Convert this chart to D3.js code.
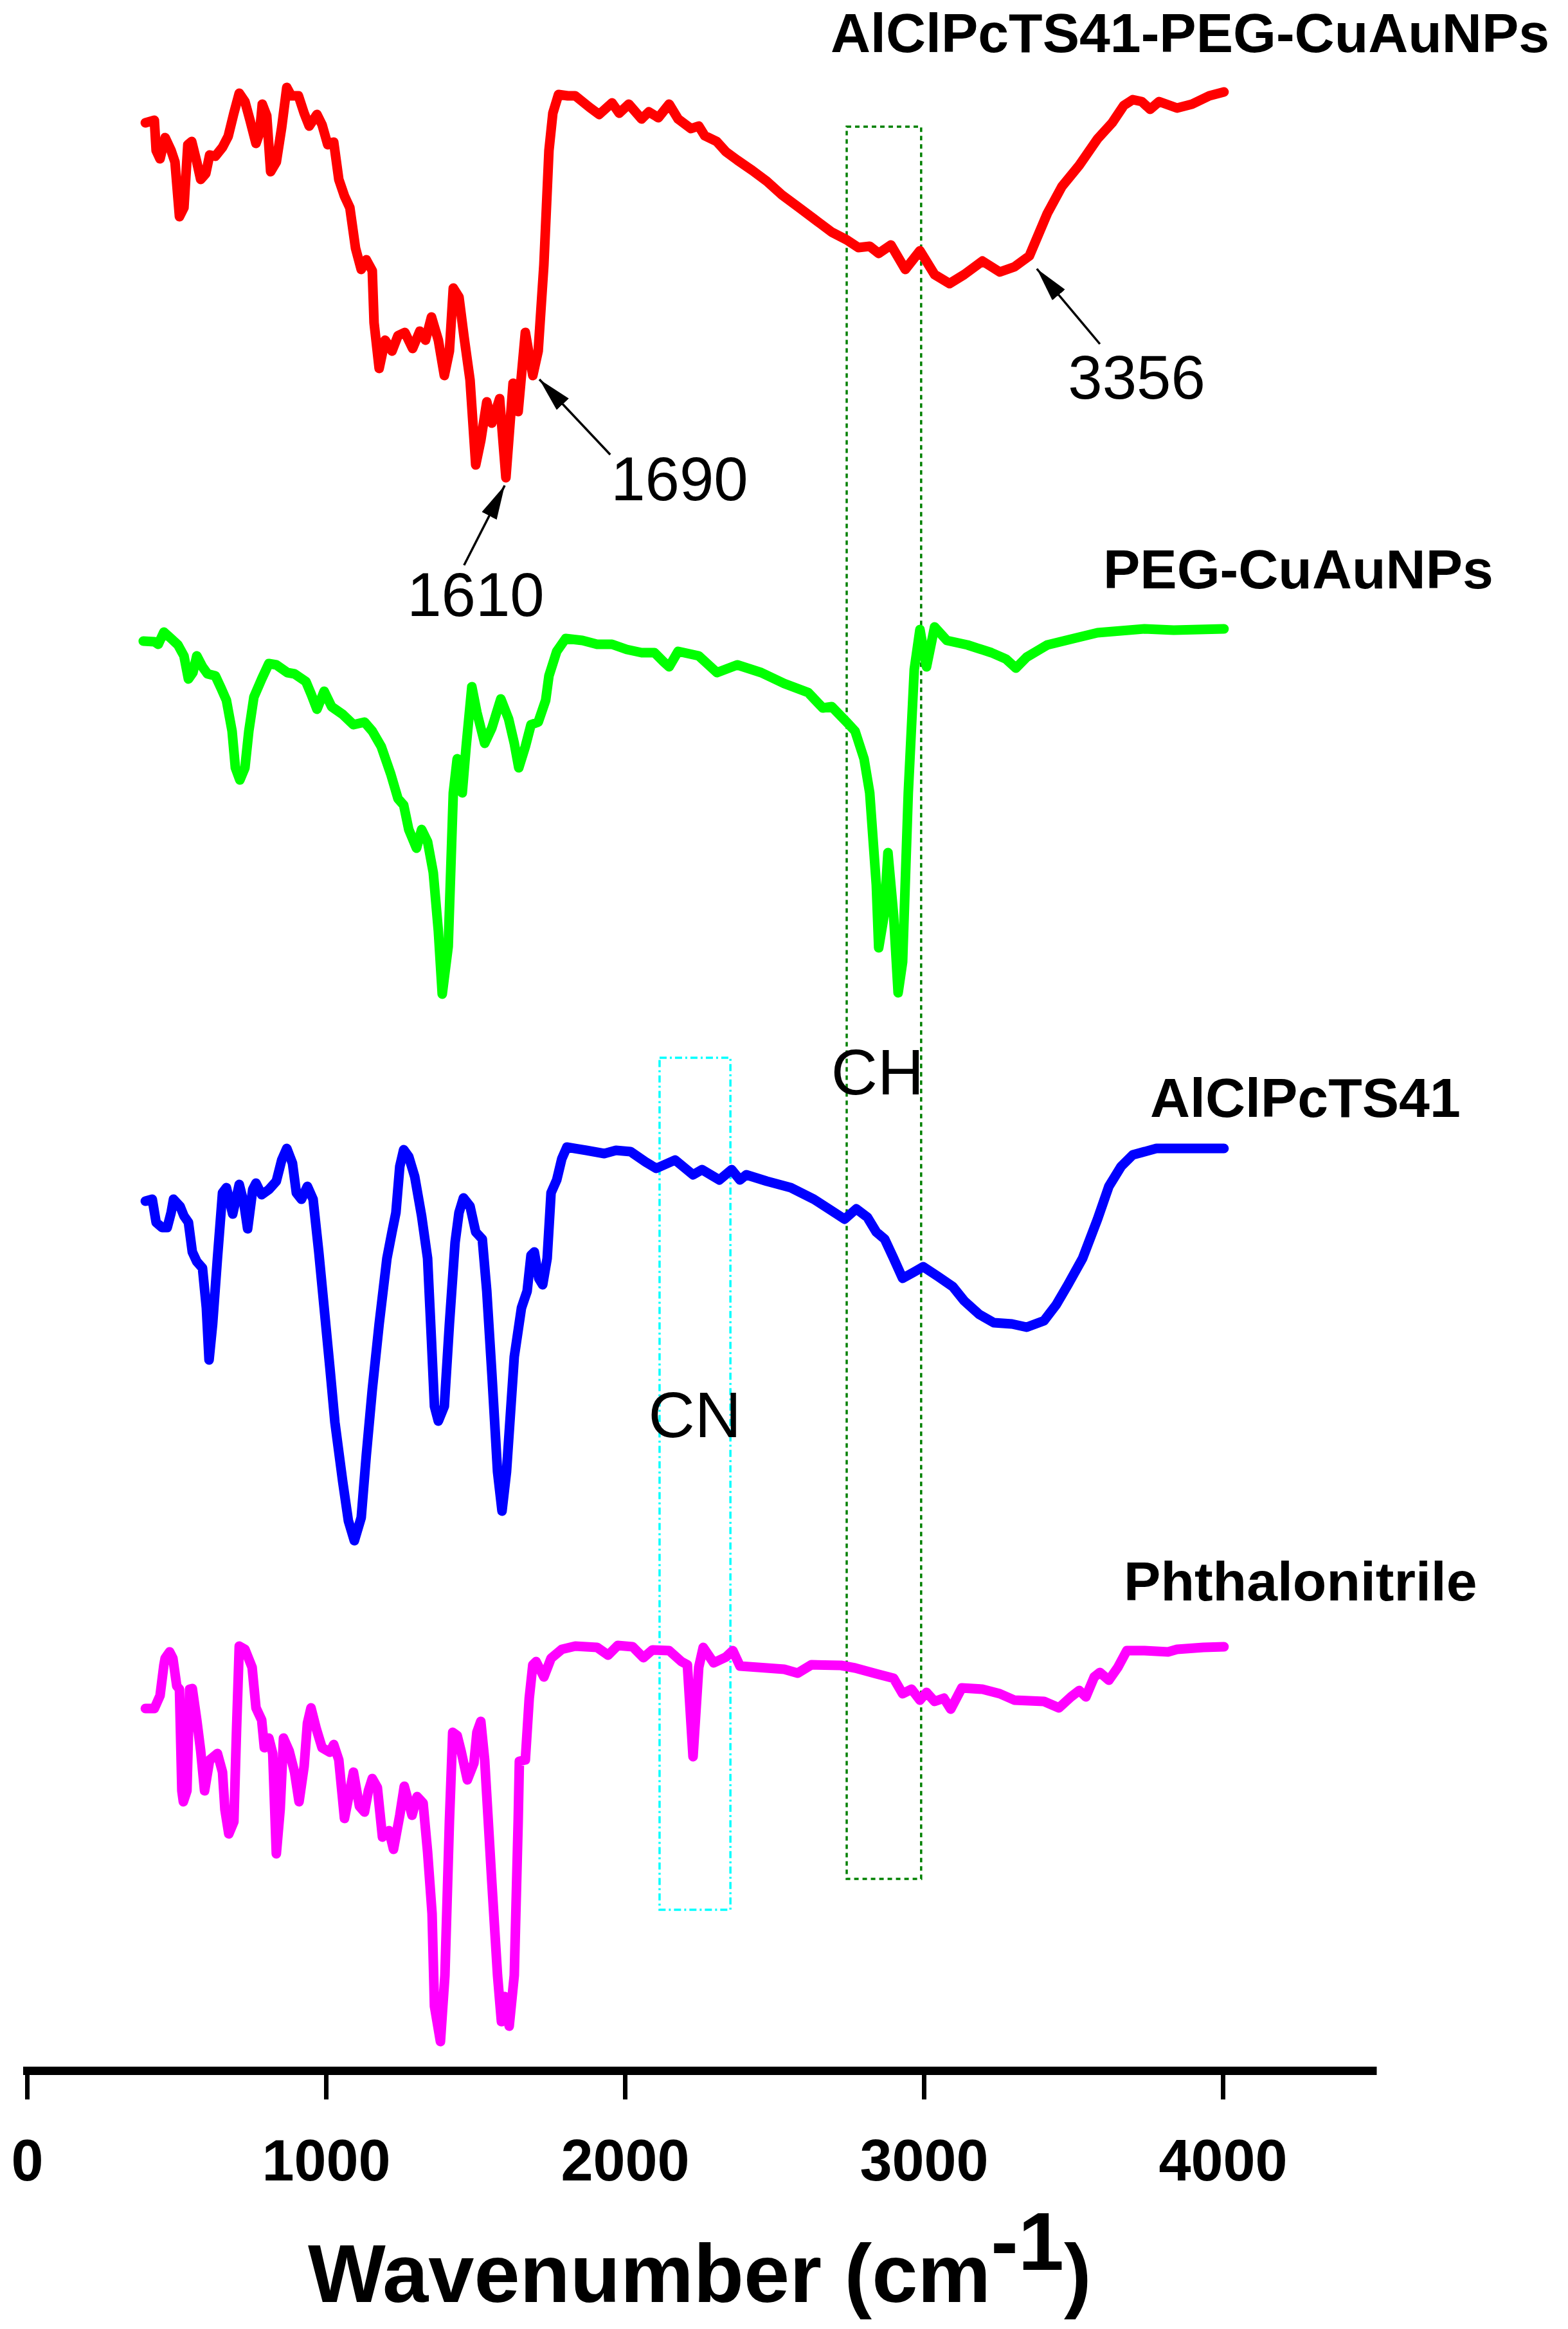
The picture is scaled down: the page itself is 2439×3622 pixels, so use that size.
<!DOCTYPE html>
<html>
<head>
<meta charset="utf-8">
<script src="https://cdn.jsdelivr.net/npm/d3@7/dist/d3.min.js"></script>
<style>
  body { margin: 0; background: #fff; }
  svg { display: block; }
</style>
</head>
<body>
<svg id="chart"></svg>
<script>
const width = 2439;
const height = 3622;

// series, top to bottom
const seriesNames = ["AlClPcTS41-PEG-CuAuNPs", "PEG-CuAuNPs", "AlClPcTS41", "Phthalonitrile"];
const seriesColors = ["#ff0000", "#00ff00", "#0000ff", "#ff00ff"];

// [wavenumber, stacked transmittance (a.u.)]
const conjugateData = [
  [396,303.1],[426,303.5],[432,298.8],[445,297.5],[462,300.8],[482,298.8],[495,297.0],[510,288.5],[525,289.9],
  [538,299.7],[551,300.2],[568,297.0],[581,294.3],[598,295.2],[611,298.1],[630,297.9],[654,299.3],[673,301.0],
  [692,304.6],[710,307.7],[729,306.4],[746,303.5],[766,299.9],[778,301.5],[787,306.0],[802,304.2],[815,295.5],
  [834,297.0],[852,302.4],[869,308.6],[884,307.3],[908,307.3],[927,304.6],[944,302.6],[970,304.4],[987,302.8],
  [1006,299.7],[1026,300.1],[1043,294.3],[1062,291.7],[1080,289.9],[1099,283.6],[1118,280.3],[1135,281.8],
  [1155,280.1],[1161,272.0],[1178,264.9],[1198,269.3],[1221,267.6],[1241,270.0],[1264,270.5],[1290,268.0],
  [1314,270.7],[1333,269.3],[1353,272.9],[1376,269.3],[1396,263.8],[1413,267.6],[1426,277.4],[1445,276.0],
  [1462,269.8],[1482,263.1],[1501,249.9],[1518,253.7],[1538,259.7],[1555,256.4],[1581,260.2],[1602,247.9],
  [1626,262.6],[1643,258.2],[1667,270.5],[1692,263.8],[1710,267.6],[1729,281.0],[1746,298.8],[1759,304.6],
  [1778,307.5],[1809,307.3],[1834,307.3],[1882,305.5],[1914,304.4],[1957,306.2],[1981,304.6],[2013,306.0],
  [2056,303.7],[2080,304.8],[2112,303.9],[2148,306.0],[2178,303.7],[2221,302.2],[2247,302.6],[2267,301.1],
  [2307,300.2],[2338,298.6],[2376,297.3],[2426,295.7],[2475,294.0],[2525,291.9],[2583,289.9],[2643,287.8],
  [2692,286.1],[2742,284.9],[2781,283.7],[2819,283.9],[2849,282.8],[2890,284.1],[2938,280.3],[2987,283.2],
  [3036,279.5],[3086,278.1],[3135,279.5],[3196,281.6],[3254,279.9],[3303,280.7],[3353,282.4],[3413,289.0],
  [3462,293.2],[3520,296.5],[3581,300.6],[3630,303.1],[3669,305.8],[3699,306.7],[3729,306.4],[3757,305.2],
  [3787,306.4],[3847,305.4],[3897,306.0],[3955,307.3],[4004,307.9]
];

const pegData = [
  [389,222.5],[426,222.4],[439,222.0],[458,223.9],[482,222.9],[505,221.9],[525,220.2],[540,216.6],[555,217.6],
  [568,220.2],[587,218.5],[604,217.4],[630,217.1],[649,215.2],[667,213.3],[686,208.5],[697,202.8],[712,200.9],
  [729,202.8],[742,208.5],[759,213.8],[785,216.6],[809,219.0],[834,218.8],[871,217.6],[895,217.4],[933,216.2],
  [951,214.2],[970,211.9],[994,214.7],[1019,212.3],[1056,211.1],[1092,209.5],[1129,209.9],[1155,208.5],
  [1185,206.1],[1217,201.8],[1241,198.0],[1260,197.0],[1277,193.2],[1303,190.3],[1320,193.2],[1340,191.3],
  [1359,186.5],[1376,177.4],[1389,167.6],[1409,175.0],[1426,198.9],[1439,204.2],[1456,198.9],[1469,206.1],
  [1488,215.4],[1505,211.4],[1531,206.6],[1555,209.0],[1585,213.5],[1611,210.4],[1630,206.6],[1645,202.8],
  [1667,206.1],[1686,209.5],[1710,209.9],[1735,213.3],[1746,217.1],[1772,220.9],[1802,222.9],[1858,222.6],
  [1907,222.0],[1957,222.0],[2006,221.2],[2056,220.7],[2099,220.7],[2129,219.3],[2148,218.5],[2178,220.9],
  [2247,220.2],[2308,217.6],[2376,218.8],[2456,217.6],[2533,215.9],[2613,214.5],[2662,212.1],[2692,212.3],
  [2742,209.9],[2770,208.5],[2800,204.2],[2819,198.9],[2841,184.6],[2849,174.8],[2867,179.8],[2880,189.6],
  [2899,179.8],[2914,167.8],[2929,172.6],[2948,198.9],[2968,218.1],[2987,224.3],[3009,218.5],[3036,224.7],
  [3077,222.6],[3146,221.9],[3226,220.7],[3275,219.7],[3308,218.3],[3344,220.0],[3413,221.9],[3501,222.9],
  [3581,223.8],[3738,224.4],[3836,224.2],[4004,224.4]
];

const pcData = [
  [396,135.4],[419,135.7],[432,132.1],[452,131.3],[469,131.3],[482,133.6],[490,135.7],[512,134.6],[525,133.1],
  [540,132.1],[553,127.5],[568,126.0],[587,125.0],[600,118.8],[609,110.7],[621,116.3],[637,126.5],[654,136.7],
  [667,137.5],[688,133.4],[710,138.0],[725,135.2],[738,131.1],[755,137.2],[766,138.2],[785,136.4],[809,137.2],
  [834,138.5],[852,141.8],[869,143.6],[888,141.3],[901,136.7],[918,135.7],[938,137.7],[957,135.7],[976,127.5],
  [994,118.8],[1013,109.6],[1030,101.0],[1056,91.8],[1075,85.7],[1095,82.6],[1118,86.2],[1135,95.9],
  [1155,106.1],[1178,116.3],[1204,126.5],[1221,130.6],[1234,133.6],[1247,140.8],[1260,143.4],[1277,142.3],
  [1297,139.2],[1320,133.1],[1340,126.5],[1353,113.7],[1363,103.5],[1376,101.2],[1396,103.5],[1413,116.3],
  [1432,129.0],[1445,133.6],[1460,135.9],[1482,134.6],[1501,130.6],[1523,129.5],[1538,121.4],[1555,108.6],
  [1574,93.3],[1589,87.2],[1604,93.3],[1630,111.2],[1654,118.8],[1673,121.4],[1686,127.0],[1697,127.5],
  [1712,123.4],[1725,122.4],[1740,126.5],[1753,136.7],[1772,138.7],[1789,142.0],[1806,143.8],[1871,143.3],
  [1931,142.8],[1970,143.3],[2019,143.1],[2069,141.5],[2105,140.5],[2168,141.8],[2228,139.5],[2258,140.3],
  [2316,138.7],[2357,140.3],[2385,138.7],[2406,139.5],[2475,138.5],[2555,137.5],[2632,135.7],[2692,133.9],
  [2735,132.6],[2774,134.2],[2811,132.9],[2841,130.6],[2869,129.5],[2899,126.5],[2929,123.4],[2968,124.4],
  [2998,125.2],[3047,123.7],[3097,122.1],[3135,119.9],[3185,117.8],[3234,116.5],[3295,116.3],[3344,115.8],
  [3402,116.8],[3443,119.3],[3482,122.4],[3531,126.5],[3581,132.6],[3619,137.7],[3660,140.8],[3699,142.6],
  [3778,143.6],[3877,143.6],[4004,143.6]
];

const nitrileData = [
  [396,56.5],[426,56.5],[445,58.5],[458,63.3],[462,64.3],[477,65.3],[488,64.3],[501,60.0],[510,59.5],[518,43.7],
  [523,42.0],[535,43.7],[544,59.5],[553,59.6],[568,54.7],[581,49.9],[594,43.7],[611,48.5],[637,49.5],[654,46.6],
  [662,40.8],[675,37.0],[692,38.9],[701,53.3],[710,66.2],[729,65.7],[753,62.9],[766,56.6],[785,54.7],[794,50.4],
  [809,51.9],[822,49.5],[834,33.9],[847,40.9],[858,51.9],[877,49.9],[895,46.6],[910,42.0],[927,47.5],[938,54.2],
  [950,56.6],[968,53.3],[987,50.4],[1013,49.7],[1026,50.9],[1043,48.5],[1062,39.4],[1080,43.7],[1092,46.6],
  [1112,41.3],[1129,40.4],[1142,43.7],[1155,45.6],[1172,44.2],[1189,36.5],[1211,37.5],[1226,34.6],[1247,39.9],
  [1262,44.4],[1288,39.9],[1305,42.8],[1325,41.8],[1340,34.2],[1355,24.6],[1363,10.2],[1383,4.7],[1398,15.0],
  [1413,38.9],[1424,52.8],[1439,52.3],[1452,49.9],[1473,45.4],[1495,48.0],[1505,52.8],[1518,54.5],[1531,48.5],
  [1555,29.4],[1574,15.0],[1587,7.8],[1598,11.7],[1613,7.1],[1630,15.0],[1643,38.9],[1647,48.3],[1667,48.5],
  [1680,58.1],[1692,63.3],[1703,63.8],[1729,61.4],[1753,64.3],[1789,65.7],[1834,66.2],[1907,66.0],[1944,64.8],
  [1976,66.3],[2026,66.1],[2062,64.4],[2092,65.6],[2148,65.5],[2189,63.8],[2209,63.3],[2228,49.0],[2247,62.9],
  [2262,66.0],[2297,63.6],[2338,64.5],[2361,65.5],[2385,63.1],[2445,62.9],[2533,62.6],[2578,62.0],[2624,63.3],
  [2723,63.2],[2770,62.8],[2841,61.9],[2899,61.2],[2929,58.8],[2959,59.5],[2987,57.8],[3009,59.0],[3036,57.6],
  [3067,58.1],[3090,56.4],[3127,59.7],[3196,59.5],[3254,58.8],[3303,57.8],[3402,57.6],[3452,56.6],[3492,58.3],
  [3520,59.3],[3542,58.3],[3570,61.4],[3589,62.1],[3619,60.9],[3649,62.9],[3679,65.5],[3738,65.5],[3817,65.3],
  [3847,65.7],[3935,66.0],[4004,66.1]
];

const xTicks = [0, 1000, 2000, 3000, 4000];

// band regions [from wn, to wn, bottom, top]
const bandNames = ["CN", "CH"];
const bandRanges = [[2116, 2353, 25.2, 157.7], [2742, 2991, 30.0, 302.5]];

// peak call-outs
const peakLabels = ["1690", "1610", "3356"];
const peakTips = [[1714, 263.2], [1598, 246.7], [3378, 280.4]];

const allSeries = [conjugateData, pegData, pcData, nitrileData];

// ---- layout (not data) ----
const seriesLabelPos = [[2688, 314.1], [3600, 230.7], [3757, 148.5], [3669, 73.3]];
const peakTails = [[1951, 251.5], [1462, 234.3], [3589, 268.7]];
const peakTextPos = [[1953, 244.4, "start"], [1501, 226.4, "middle"], [3712, 260.2, "middle"]];
const bandTextPos = [[2234, 98.7], [2845, 152.0]];
const bandColors = ["#00ffff", "#008000"];
const bandDash = ["11,5,3,5", "7,6"];

const font = "'Liberation Sans', Arial, Helvetica, sans-serif";

const svg = d3.select("#chart")
  .attr("width", width).attr("height", height)
  .style("background", "#fff");

const x = d3.scaleLinear().domain([0, 4500]).range([42, 42 + 4500 * 0.465]);
const y = d3.scaleLinear().domain([0, 320]).range([3222, 22]);

// arrow head
svg.append("defs").append("marker")
  .attr("id", "head")
  .attr("markerUnits", "userSpaceOnUse")
  .attr("viewBox", "0 0 53 26")
  .attr("refX", 53).attr("refY", 13)
  .attr("markerWidth", 53).attr("markerHeight", 26)
  .attr("orient", "auto")
  .append("path")
  .attr("d", "M0,0L53,13L0,26Z")
  .attr("fill", "#000");

// band boxes sit behind the spectra
svg.append("g").selectAll("rect")
  .data(bandRanges)
  .enter().append("rect")
  .attr("x", d => x(d[0]))
  .attr("y", d => y(d[3]))
  .attr("width", d => x(d[1]) - x(d[0]))
  .attr("height", d => y(d[2]) - y(d[3]))
  .attr("fill", "none")
  .attr("stroke", (d, i) => bandColors[i])
  .attr("stroke-width", 3.5)
  .attr("stroke-dasharray", (d, i) => bandDash[i]);

const line = d3.line()
  .x(d => x(d[0]))
  .y(d => y(d[1]));

svg.append("g").selectAll("path")
  .data(allSeries)
  .enter().append("path")
  .attr("d", line)
  .attr("fill", "none")
  .attr("stroke", (d, i) => seriesColors[i])
  .attr("stroke-width", 15)
  .attr("stroke-linejoin", "round")
  .attr("stroke-linecap", "round");

// series names
svg.append("g").selectAll("text")
  .data(seriesNames)
  .enter().append("text")
  .attr("x", (d, i) => x(seriesLabelPos[i][0]))
  .attr("y", (d, i) => y(seriesLabelPos[i][1]))
  .style("font-family", font)
  .style("font-weight", "bold")
  .style("font-size", "86px")
  .text(d => d);

// band labels
svg.append("g").selectAll("text")
  .data(bandNames)
  .enter().append("text")
  .attr("x", (d, i) => x(bandTextPos[i][0]))
  .attr("y", (d, i) => y(bandTextPos[i][1]))
  .attr("text-anchor", "middle")
  .style("font-family", font)
  .style("font-size", "100px")
  .text(d => d);

// peak arrows and numbers
const peaks = svg.append("g");
peaks.selectAll("line")
  .data(peakTips)
  .enter().append("line")
  .attr("x1", (d, i) => x(peakTails[i][0]))
  .attr("y1", (d, i) => y(peakTails[i][1]))
  .attr("x2", d => x(d[0]))
  .attr("y2", d => y(d[1]))
  .attr("stroke", "#000")
  .attr("stroke-width", 3.5)
  .attr("marker-end", "url(#head)");

peaks.selectAll("text")
  .data(peakLabels)
  .enter().append("text")
  .attr("x", (d, i) => x(peakTextPos[i][0]))
  .attr("y", (d, i) => y(peakTextPos[i][1]))
  .attr("text-anchor", (d, i) => peakTextPos[i][2])
  .style("font-family", font)
  .style("font-size", "96px")
  .text(d => d);

// x axis
const axis = svg.append("g")
  .attr("transform", `translate(0,${y(0) - 2})`)
  .call(d3.axisBottom(x)
    .tickValues(xTicks)
    .tickFormat(d3.format("d"))
    .tickSize(45)
    .tickSizeOuter(0)
    .tickPadding(62));

axis.select(".domain")
  .attr("stroke", "#000")
  .attr("stroke-width", 13)
  .attr("stroke-linecap", "square");
axis.selectAll(".tick line")
  .attr("stroke", "#000")
  .attr("stroke-width", 7);
axis.selectAll(".tick text")
  .attr("fill", "#000")
  .style("font-family", font)
  .style("font-weight", "bold")
  .style("font-size", "90px");

const title = svg.append("text")
  .attr("x", (x.range()[0] + x.range()[1]) / 2)
  .attr("y", 3580)
  .attr("text-anchor", "middle")
  .style("font-family", font)
  .style("font-weight", "bold")
  .style("font-size", "128px");
title.append("tspan").text("Wavenumber (cm");
title.append("tspan").attr("dy", -50).text("-1");
title.append("tspan").attr("dy", 50).text(")");
</script>
</body>
</html>
